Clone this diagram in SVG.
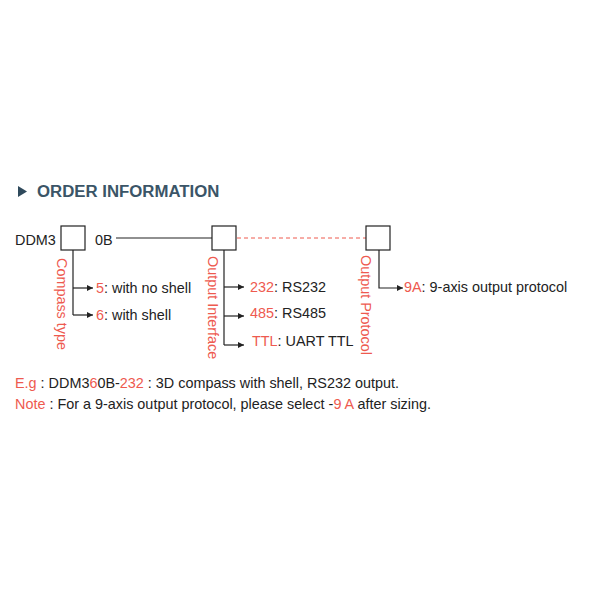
<svg xmlns="http://www.w3.org/2000/svg" width="600" height="600" viewBox="0 0 600 600">
<style>
text{font-family:"Liberation Sans",Arial,sans-serif;font-size:14.4px;fill:#222}
.r{fill:#ee5a4f}
.box{fill:#fff;stroke:#222;stroke-width:1.2}
.ln{fill:none;stroke:#222;stroke-width:1.2}
.vt{fill:#ee5a4f;font-size:14.4px}
</style>
<defs><marker id="a" markerWidth="6" markerHeight="6" refX="5" refY="3" orient="auto"><path d="M0,0.5 L5,3 L0,5.5z" fill="#222"/></marker></defs>
<rect width="600" height="600" fill="#fff"/>
<g id="title"><path d="M18,186 L27,191.5 L18,197z" fill="#2f4a5c"/><text x="37" y="197" style="font-size:16.8px;font-weight:bold;fill:#3b5567">ORDER INFORMATION</text></g>
<g id="connectors">
<path class="ln" d="M116,238 H212"/>
<path d="M237,238 H366" stroke="#ee5a4f" stroke-width="1" stroke-dasharray="4,3" fill="none"/>
<path class="ln" d="M73,250 V315"/>
<path class="ln" d="M73,288 H93" marker-end="url(#a)"/>
<path class="ln" d="M73,315 H93" marker-end="url(#a)"/>
<path class="ln" d="M224,250 V345"/>
<path class="ln" d="M224,287 H244" marker-end="url(#a)"/>
<path class="ln" d="M224,316 H244" marker-end="url(#a)"/>
<path class="ln" d="M224,345 H244" marker-end="url(#a)"/>
<path class="ln" d="M379,250 V288 H403" marker-end="url(#a)"/>
</g>
<g id="node1"><text x="15" y="245">DDM3</text><rect class="box" x="61" y="226" width="24" height="24"/><text x="95" y="245">0B</text>
<text class="vt" transform="translate(57,258) rotate(90)">Compass type</text>
<text x="96" y="293"><tspan class="r">5</tspan>: with no shell</text>
<text x="96" y="320"><tspan class="r">6</tspan>: with shell</text></g>
<g id="node2"><rect class="box" x="212" y="226" width="24" height="24"/>
<text class="vt" transform="translate(208,256) rotate(90)">Output Interface</text>
<text x="250" y="292"><tspan class="r">232</tspan>: RS232</text>
<text x="250" y="318"><tspan class="r">485</tspan>: RS485</text>
<text x="252" y="346"><tspan class="r">TTL</tspan>: UART TTL</text></g>
<g id="node3"><rect class="box" x="366" y="226" width="24" height="24"/>
<text class="vt" transform="translate(361,255) rotate(90)">Output Protocol</text>
<text x="404" y="292"><tspan class="r">9A</tspan>: 9-axis output protocol</text></g>
<g id="notes">
<text x="15" y="388"><tspan class="r">E.g</tspan> : DDM3<tspan class="r">6</tspan>0B-<tspan class="r">232</tspan> : 3D compass with shell, RS232 output.</text>
<text x="15" y="409"><tspan class="r">Note</tspan> : For a 9-axis output protocol, please select -<tspan class="r">9 A</tspan> after sizing.</text>
</g>
</svg>
